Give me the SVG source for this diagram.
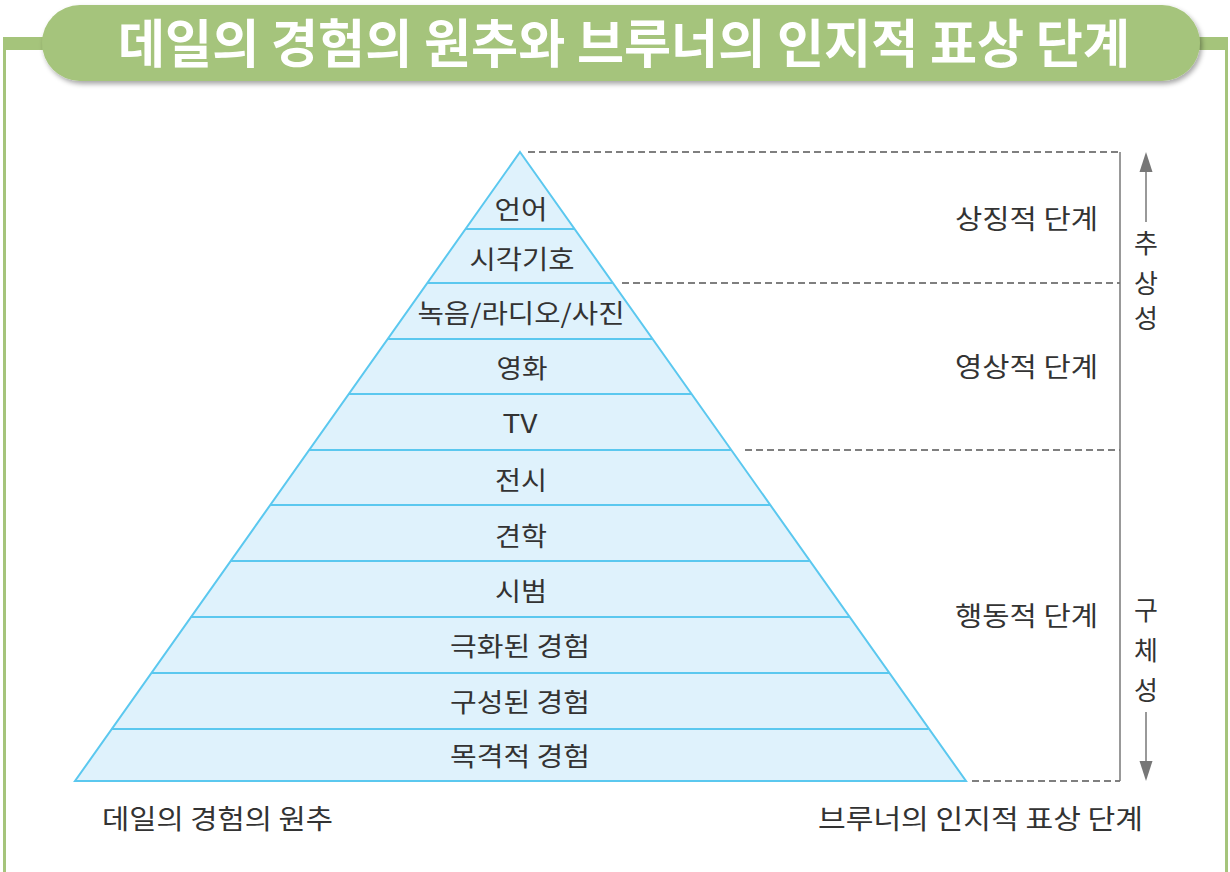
<svg xmlns="http://www.w3.org/2000/svg" width="1230" height="872" viewBox="0 0 1230 872">
<defs>
<filter id="sh" x="-5%" y="-20%" width="110%" height="150%">
<feDropShadow dx="2" dy="3" stdDeviation="2.5" flood-color="#000" flood-opacity="0.35"/>
</filter>
</defs>
<style>
.t{font-family:"Noto Sans CJK KR","Noto Sans",sans-serif;fill:#333;}
.lay{font-size:26px;text-anchor:middle;}
.stage{font-size:27px;}
.vert{font-size:26px;text-anchor:middle;}
.cap{font-size:27.5px;}
.band{fill:#dff2fc;stroke:#5bc8ef;stroke-width:2;}
.sep{stroke:#5bc8ef;stroke-width:2;fill:none;}
.dash{stroke:#555;stroke-width:1.5;stroke-dasharray:7 4;fill:none;}
.grey{stroke:#777;stroke-width:1.5;fill:none;}
.frame{fill:#a5c47b;}
</style>
<rect width="1230" height="872" fill="#fff"/>
<g id="frame">
<rect class="frame" x="3" y="37" width="50" height="13"/>
<rect class="frame" x="3" y="37" width="3" height="835"/>
<rect class="frame" x="1180" y="37" width="48" height="13"/>
<rect class="frame" x="1225" y="37" width="3" height="835"/>
</g>
<g id="title">
<rect x="42" y="5" width="1158" height="76" rx="38" fill="#a5c47b" filter="url(#sh)"/>
<text x="624" y="63" font-family="'Noto Sans CJK KR',sans-serif" font-weight="bold" font-size="52" fill="#fff" text-anchor="middle" textLength="1012" lengthAdjust="spacingAndGlyphs">데일의 경험의 원추와 브루너의 인지적 표상 단계</text>
</g>
<g id="pyramid">
<polygon class="band" points="520,152 966,781 75,781"/>
<g class="sep">
<line x1="465.5" y1="229" x2="574.5" y2="229"/>
<line x1="427.3" y1="283" x2="612.7" y2="283"/>
<line x1="387.6" y1="339" x2="652.4" y2="339"/>
<line x1="348.7" y1="394" x2="691.3" y2="394"/>
<line x1="309" y1="450" x2="731" y2="450"/>
<line x1="270" y1="505" x2="770" y2="505"/>
<line x1="230.4" y1="561" x2="809.6" y2="561"/>
<line x1="190.7" y1="617" x2="849.3" y2="617"/>
<line x1="151" y1="673" x2="889" y2="673"/>
<line x1="111.4" y1="729" x2="928.6" y2="729"/>
</g>
</g>
<g id="layer-labels" class="t lay">
<text x="521" y="219" textLength="53" lengthAdjust="spacingAndGlyphs">언어</text>
<text x="522" y="269" textLength="105" lengthAdjust="spacingAndGlyphs">시각기호</text>
<text x="521" y="323" textLength="207" lengthAdjust="spacingAndGlyphs">녹음/라디오/사진</text>
<text x="522" y="378" textLength="51" lengthAdjust="spacingAndGlyphs">영화</text>
<text x="520" y="433" textLength="35" lengthAdjust="spacingAndGlyphs">TV</text>
<text x="521" y="490" textLength="52" lengthAdjust="spacingAndGlyphs">전시</text>
<text x="521" y="546" textLength="52" lengthAdjust="spacingAndGlyphs">견학</text>
<text x="521" y="601" textLength="52" lengthAdjust="spacingAndGlyphs">시범</text>
<text x="520" y="656" textLength="140" lengthAdjust="spacingAndGlyphs">극화된 경험</text>
<text x="520" y="712" textLength="140" lengthAdjust="spacingAndGlyphs">구성된 경험</text>
<text x="520" y="766" textLength="140" lengthAdjust="spacingAndGlyphs">목격적 경험</text>
</g>
<g id="connectors">
<line class="dash" x1="528" y1="152" x2="1120" y2="152"/>
<line class="dash" x1="622" y1="283" x2="1120" y2="283"/>
<line class="dash" x1="745" y1="450" x2="1120" y2="450"/>
<line class="dash" x1="972" y1="781" x2="1120" y2="781" stroke-dasharray="5 2"/>
<line class="grey" x1="1120" y1="152" x2="1120" y2="781"/>
<line class="grey" x1="1146" y1="222" x2="1146" y2="168"/>
<polygon points="1146,152 1139.5,172 1152.5,172" fill="#777"/>
<line class="grey" x1="1146" y1="712" x2="1146" y2="765"/>
<polygon points="1146,781 1139.5,761 1152.5,761" fill="#777"/>
</g>
<g id="stages" class="t stage">
<text x="955" y="229" textLength="143" lengthAdjust="spacingAndGlyphs">상징적 단계</text>
<text x="955" y="377" textLength="143" lengthAdjust="spacingAndGlyphs">영상적 단계</text>
<text x="955" y="626" textLength="143" lengthAdjust="spacingAndGlyphs">행동적 단계</text>
</g>
<g id="axis-labels" class="t vert">
<text x="1146" y="253">추</text>
<text x="1146" y="293">상</text>
<text x="1146" y="328">성</text>
<text x="1146" y="620">구</text>
<text x="1146" y="660">체</text>
<text x="1146" y="700">성</text>
</g>
<g id="captions" class="t cap">
<text x="102" y="829" textLength="231" lengthAdjust="spacingAndGlyphs">데일의 경험의 원추</text>
<text x="818" y="829" textLength="325" lengthAdjust="spacingAndGlyphs">브루너의 인지적 표상 단계</text>
</g>
</svg>
